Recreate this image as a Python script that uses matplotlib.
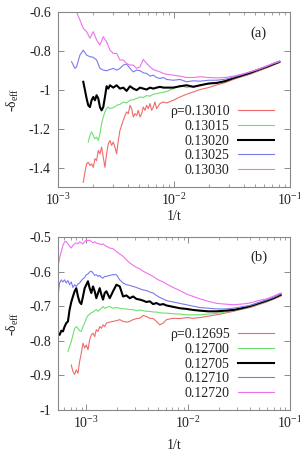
import numpy as np
import matplotlib
matplotlib.use("Agg")
import matplotlib.pyplot as plt
from matplotlib.ticker import FixedLocator, FuncFormatter, LogLocator

plt.rcParams['font.family'] = ['Liberation Serif', 'DejaVu Serif']
plt.rcParams['mathtext.fontset'] = 'custom'
plt.rcParams['mathtext.rm'] = 'Liberation Serif'
plt.rcParams['mathtext.it'] = 'Liberation Serif:italic'
plt.rcParams['axes.unicode_minus'] = False

# ---------------- panel (a) data ----------------
labels_a = ['ρ=0.13010', '0.13015', '0.13020', '0.13025', '0.13030']
x_tail_a = [9.869e-3, 1.127e-2, 1.286e-2, 1.468e-2, 1.676e-2, 1.977e-2, 2.332e-2,
            2.753e-2, 3.247e-2, 3.831e-2, 4.520e-2, 5.333e-2, 6.294e-2, 7.184e-2, 8.091e-2]

x_a1 = [1.654e-3, 1.710e-3, 1.767e-3, 1.826e-3, 1.888e-3, 1.951e-3, 2.017e-3, 2.084e-3,
        2.154e-3, 2.227e-3, 2.302e-3, 2.379e-3, 2.459e-3, 2.542e-3, 2.627e-3, 2.716e-3,
        2.807e-3, 2.901e-3, 2.999e-3, 3.100e-3, 3.204e-3, 3.312e-3, 3.423e-3, 3.539e-3,
        3.658e-3, 3.781e-3, 3.908e-3, 4.040e-3, 4.176e-3, 4.316e-3, 4.462e-3, 4.612e-3,
        4.767e-3, 4.928e-3, 5.093e-3, 5.264e-3, 5.441e-3, 5.623e-3, 5.812e-3, 6.007e-3,
        6.210e-3, 6.418e-3, 6.634e-3, 6.857e-3, 7.088e-3, 7.573e-3, 8.091e-3, 8.645e-3]
y_a1 = [-1.475, -1.423, -1.380, -1.372, -1.389, -1.380, -1.398, -1.354, -1.363, -1.311,
        -1.329, -1.294, -1.346, -1.398, -1.329, -1.277, -1.260, -1.285, -1.268, -1.294,
        -1.329, -1.260, -1.208, -1.182, -1.156, -1.131, -1.113, -1.122, -1.079, -1.096,
        -1.139, -1.122, -1.131, -1.105, -1.139, -1.122, -1.088, -1.105, -1.079, -1.096,
        -1.070, -1.105, -1.088, -1.062, -1.096, -1.070, -1.062, -1.067]
y_a1_tail = [-1.053, -1.036, -1.022, -1.010, -0.998, -0.988, -0.974, -0.962, -0.946,
             -0.932, -0.919, -0.903, -0.886, -0.872, -0.860]

x_a2 = [1.826e-3, 1.888e-3, 1.951e-3, 2.017e-3, 2.084e-3, 2.154e-3, 2.227e-3, 2.302e-3,
        2.379e-3, 2.459e-3, 2.542e-3, 2.627e-3, 2.716e-3, 2.807e-3, 2.999e-3, 3.204e-3,
        3.423e-3, 3.658e-3, 3.908e-3, 4.176e-3, 4.462e-3, 4.767e-3, 5.093e-3, 5.441e-3,
        5.812e-3, 6.210e-3, 6.634e-3, 7.088e-3, 7.573e-3, 8.091e-3, 8.645e-3]
y_a2 = [-1.268, -1.234, -1.216, -1.234, -1.251, -1.243, -1.260, -1.225, -1.174, -1.139,
        -1.113, -1.096, -1.088, -1.096, -1.091, -1.079, -1.074, -1.062, -1.067, -1.053,
        -1.050, -1.044, -1.036, -1.039, -1.029, -1.032, -1.022, -1.019, -1.015, -1.012, -1.008]
y_a2_tail = [-0.993, -0.976, -0.988, -0.981, -0.976, -0.970, -0.962, -0.953, -0.941,
             -0.929, -0.915, -0.900, -0.883, -0.869, -0.857]

x_a3 = [1.654e-3, 1.710e-3, 1.767e-3, 1.826e-3, 1.888e-3, 1.951e-3, 2.017e-3, 2.084e-3,
        2.154e-3, 2.227e-3, 2.302e-3, 2.379e-3, 2.459e-3, 2.542e-3, 2.627e-3, 2.716e-3,
        2.807e-3, 2.999e-3, 3.204e-3, 3.423e-3, 3.658e-3, 3.908e-3, 4.176e-3, 4.462e-3,
        4.767e-3, 5.093e-3, 5.441e-3, 5.812e-3, 6.210e-3, 6.634e-3, 7.088e-3, 7.573e-3,
        8.091e-3, 8.645e-3]
y_a3 = [-0.958, -1.001, -1.044, -1.079, -1.088, -1.053, -1.036, -1.053, -1.027, -1.044,
        -1.088, -1.105, -1.088, -1.036, -0.981, -0.993, -0.976, -0.988, -0.976, -0.993,
        -0.988, -1.005, -0.981, -0.993, -1.001, -0.988, -0.993, -0.998, -0.988, -0.993,
        -0.988, -0.984, -0.988, -0.988]
y_a3_tail = [-0.988, -0.981, -0.976, -0.984, -0.976, -0.967, -0.964, -0.955, -0.939,
             -0.926, -0.912, -0.896, -0.881, -0.867, -0.855]

x_a4 = [1.312e-3, 1.356e-3, 1.402e-3, 1.448e-3, 1.547e-3, 1.654e-3, 1.767e-3, 1.888e-3,
        2.017e-3, 2.154e-3, 2.302e-3, 2.459e-3, 2.627e-3, 2.807e-3, 2.999e-3, 3.204e-3,
        3.423e-3, 3.658e-3, 3.908e-3, 4.176e-3, 4.462e-3, 4.767e-3, 5.093e-3, 5.441e-3,
        5.812e-3, 6.210e-3, 6.634e-3, 7.088e-3, 7.573e-3, 8.091e-3, 8.645e-3]
y_a4 = [-0.855, -0.872, -0.889, -0.881, -0.821, -0.795, -0.821, -0.829, -0.832, -0.846,
        -0.889, -0.898, -0.901, -0.895, -0.889, -0.898, -0.889, -0.872, -0.867, -0.889,
        -0.907, -0.898, -0.901, -0.912, -0.915, -0.929, -0.924, -0.936, -0.941, -0.936, -0.946]
y_a4_tail = [-0.950, -0.946, -0.958, -0.953, -0.955, -0.950, -0.950, -0.945, -0.934,
             -0.922, -0.908, -0.895, -0.879, -0.865, -0.855]

x_a5 = [1.402e-3, 1.448e-3, 1.547e-3, 1.654e-3, 1.767e-3, 1.888e-3, 2.017e-3, 2.154e-3,
        2.302e-3, 2.459e-3, 2.627e-3, 2.807e-3, 2.999e-3, 3.204e-3, 3.423e-3, 3.658e-3,
        3.908e-3, 4.176e-3, 4.462e-3, 4.767e-3, 5.093e-3, 5.441e-3, 5.812e-3, 6.210e-3,
        6.634e-3, 7.088e-3, 7.573e-3, 8.091e-3, 8.645e-3]
y_a5 = [-0.570, -0.600, -0.640, -0.683, -0.700, -0.734, -0.700, -0.743, -0.769, -0.726,
        -0.752, -0.795, -0.812, -0.812, -0.846, -0.846, -0.864, -0.872, -0.872, -0.889,
        -0.881, -0.843, -0.864, -0.881, -0.895, -0.901, -0.907, -0.915, -0.919]
y_a5_tail = [-0.924, -0.929, -0.936, -0.936, -0.932, -0.936, -0.938, -0.936, -0.929,
             -0.919, -0.907, -0.893, -0.877, -0.863, -0.853]

# ---------------- panel (b) data ----------------
labels_b = ['ρ=0.12695', '0.12700', '0.12705', '0.12710', '0.12720']
x_b = [5.263e-4, 5.465e-4, 5.675e-4, 5.894e-4, 6.120e-4, 6.355e-4, 6.600e-4, 6.853e-4,
       7.117e-4, 7.390e-4, 7.675e-4, 7.970e-4, 8.277e-4, 8.595e-4, 8.925e-4, 9.273e-4,
       9.630e-4, 1.000e-3, 1.038e-3, 1.078e-3, 1.120e-3, 1.163e-3, 1.208e-3, 1.254e-3,
       1.303e-3, 1.353e-3, 1.405e-3, 1.459e-3, 1.515e-3, 1.574e-3,
       1.697e-3, 1.829e-3, 1.973e-3, 2.128e-3, 2.294e-3, 2.474e-3, 2.668e-3, 2.877e-3,
       3.103e-3, 3.346e-3, 3.609e-3, 3.891e-3, 4.198e-3, 4.526e-3, 4.881e-3, 5.264e-3,
       5.677e-3, 6.122e-3,
       7.120e-3, 8.280e-3, 9.630e-3, 1.120e-2, 1.303e-2, 1.574e-2, 1.900e-2, 2.294e-2,
       2.771e-2, 3.346e-2, 4.042e-2, 4.881e-2, 5.896e-2, 6.856e-2, 8.094e-2]

y_b1 = [-0.870, -0.889, -0.897, -0.884, -0.894, -0.860, -0.836, -0.807, -0.821, -0.812,
        -0.826, -0.797, -0.783, -0.778, -0.788, -0.768, -0.773, -0.759, -0.764, -0.754,
        -0.759, -0.749,
        -0.746, -0.744, -0.742, -0.739, -0.744, -0.746, -0.744, -0.739, -0.736, -0.735,
        -0.727, -0.730, -0.735, -0.736, -0.744, -0.754, -0.749, -0.739,
        -0.735, -0.736, -0.733, -0.735, -0.733, -0.729, -0.725, -0.720, -0.715, -0.709,
        -0.704, -0.696, -0.688, -0.680, -0.671]
y_b2 = [-0.831, -0.817, -0.802, -0.783, -0.765, -0.759, -0.764, -0.771, -0.773, -0.759,
        -0.749, -0.735, -0.727, -0.723, -0.719, -0.717, -0.713, -0.710, -0.715, -0.710,
        -0.706, -0.701, -0.706, -0.704,
        -0.701, -0.706, -0.704, -0.706, -0.708, -0.708, -0.710, -0.710, -0.713, -0.711,
        -0.713, -0.715, -0.715, -0.717, -0.717, -0.719, -0.720, -0.720,
        -0.722, -0.723, -0.725, -0.725, -0.725, -0.723, -0.721, -0.717, -0.713, -0.708,
        -0.702, -0.694, -0.686, -0.679, -0.669]
y_b3 = [-0.778, -0.783, -0.771, -0.773, -0.759, -0.749, -0.744, -0.710, -0.688, -0.672,
        -0.657, -0.648, -0.672, -0.688, -0.694, -0.672, -0.648, -0.638, -0.628, -0.648,
        -0.662, -0.643, -0.657, -0.677, -0.662, -0.648, -0.667, -0.681, -0.662, -0.657,
        -0.677, -0.657, -0.638, -0.643, -0.672, -0.669, -0.677, -0.672, -0.679, -0.681,
        -0.684, -0.688, -0.686, -0.694, -0.691, -0.696, -0.694, -0.698,
        -0.702, -0.706, -0.708, -0.711, -0.713, -0.715, -0.715, -0.713, -0.711, -0.706,
        -0.700, -0.692, -0.684, -0.677, -0.667]
y_b4 = [-0.672, -0.633, -0.624, -0.630, -0.624, -0.633, -0.626, -0.638, -0.630, -0.646,
        -0.638, -0.643, -0.636, -0.633, -0.626, -0.621, -0.617, -0.609, -0.607, -0.601,
        -0.599, -0.604, -0.611, -0.609, -0.614, -0.611, -0.617, -0.619, -0.614, -0.614,
        -0.611, -0.609, -0.609, -0.624, -0.633, -0.638, -0.640, -0.643, -0.646, -0.650,
        -0.653, -0.655, -0.659, -0.662, -0.669, -0.675, -0.679, -0.684,
        -0.688, -0.692, -0.696, -0.700, -0.704, -0.706, -0.708, -0.708, -0.706, -0.702,
        -0.698, -0.690, -0.682, -0.675, -0.665]
y_b5 = [-0.585, -0.561, -0.542, -0.524, -0.514, -0.513, -0.520, -0.527, -0.532, -0.524,
        -0.520, -0.517, -0.520, -0.514, -0.517, -0.520, -0.514, -0.509, -0.511, -0.509,
        -0.513, -0.517, -0.514, -0.517, -0.520, -0.520, -0.522, -0.520, -0.524, -0.527,
        -0.532, -0.534, -0.542, -0.549, -0.556, -0.566, -0.575, -0.582, -0.588, -0.592,
        -0.599, -0.604, -0.609, -0.614, -0.621, -0.626, -0.630, -0.636,
        -0.646, -0.655, -0.665, -0.672, -0.679, -0.686, -0.692, -0.694, -0.696, -0.694,
        -0.691, -0.684, -0.679, -0.671, -0.662]

colors = ['#f26a6a', '#6ee06e', '#000000', '#7a7aee', '#f070f0']
widths = [0.8, 0.8, 1.5, 0.8, 0.8]

fig = plt.figure(figsize=(3.0, 4.51), dpi=100)
ax_a = fig.add_axes([0.193, 0.585, 0.774, 0.388])
ax_b = fig.add_axes([0.193, 0.091, 0.774, 0.3836])

series_a = [(x_a1 + x_tail_a, y_a1 + y_a1_tail), (x_a2 + x_tail_a, y_a2 + y_a2_tail),
            (x_a3 + x_tail_a, y_a3 + y_a3_tail), (x_a4 + x_tail_a, y_a4 + y_a4_tail),
            (x_a5 + x_tail_a, y_a5 + y_a5_tail)]
series_b = [(x_b[-len(v):], v) for v in [y_b1, y_b2, y_b3, y_b4, y_b5]]

FS = 10

def style(ax, xlim, ylim, yticks, panel, series, labels, xlabel_y):
    for (xs, ys), c, w, lab in zip(series, colors, widths, labels):
        ax.plot(xs, ys, color=c, lw=w, label=lab)
    ax.set_xscale('log')
    ax.set_xlim(*xlim)
    ax.set_ylim(*ylim)
    ax.yaxis.set_major_locator(FixedLocator(yticks))
    ax.yaxis.set_major_formatter(FuncFormatter(lambda v, p: '%g' % v))
    ax.xaxis.set_major_locator(LogLocator(base=10, numticks=10))
    ax.xaxis.set_minor_locator(LogLocator(base=10, subs=np.arange(2, 10), numticks=20))
    ax.tick_params(which='both', direction='in', top=True, right=True,
                   colors='#777777', labelcolor='#222222', labelsize=FS)
    ax.tick_params(which='major', length=4.5, width=0.6)
    ax.tick_params(which='minor', length=2.5, width=0.5)
    ax.tick_params(axis='y', pad=5)
    ax.tick_params(axis='x', pad=3.5)
    for s in ax.spines.values():
        s.set_color('#888888')
        s.set_linewidth(0.8)
    ax.set_xlabel('1/t', fontsize=FS, color='#222222')
    ax.set_ylabel(r'-δ$_{\rm eff}$', fontsize=FS, color='#222222')
    ax.yaxis.set_label_coords(-0.16, 0.5)
    ax.xaxis.set_label_coords(0.5, xlabel_y)
    ax.text(0.865, 0.88, panel, transform=ax.transAxes, fontsize=FS + 0.5,
            ha='center', va='center', color='#222222')
    leg = ax.legend(loc='lower right', bbox_to_anchor=(0.93, 0.058), frameon=False,
                    markerfirst=False, fontsize=FS, handlelength=2.6, handletextpad=0.6,
                    labelspacing=0.12, borderpad=0, borderaxespad=0)
    for t in leg.get_texts():
        t.set_color('#222222')

style(ax_a, (1e-3, 1e-1), (-1.5, -0.6), [-1.4, -1.2, -1.0, -0.8, -0.6], '(a)',
      series_a, labels_a, -0.13)
style(ax_b, (5.26e-4, 1e-1), (-1.0, -0.5), [-1.0, -0.9, -0.8, -0.7, -0.6, -0.5], '(b)',
      series_b, labels_b, -0.17)

fig.savefig('out.png', dpi=100)
